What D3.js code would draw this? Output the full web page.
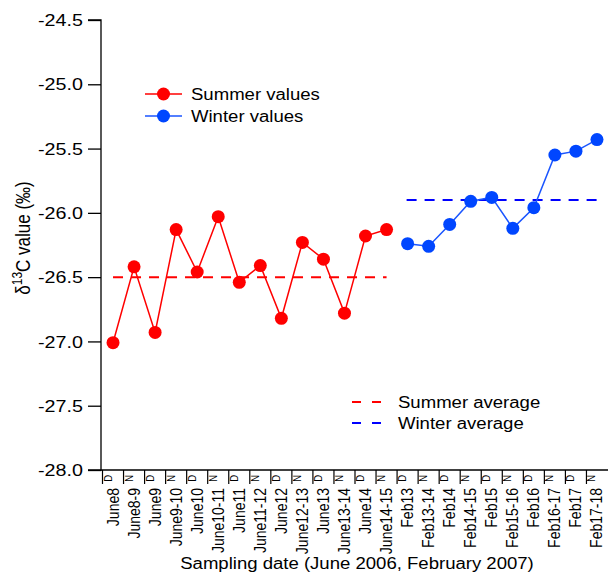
<!DOCTYPE html>
<html><head><meta charset="utf-8">
<script src="https://cdn.jsdelivr.net/npm/d3@7"></script>
<style>body{margin:0;background:#fff;} text{font-family:"Liberation Sans",Arial,sans-serif;fill:#000;}</style>
</head><body>
<svg id="c" width="608" height="577"></svg>
<script>
const summerCats = ["June8","June8-9","June9","June9-10","June10","June10-11","June11","June11-12","June12","June12-13","June13","June13-14","June14","June14-15"];
const winterCats = ["Feb13","Feb13-14","Feb14","Feb14-15","Feb15","Feb15-16","Feb16","Feb16-17","Feb17","Feb17-18"];
const summerValues = [-27.01,-26.42,-26.93,-26.13,-26.46,-26.03,-26.54,-26.41,-26.82,-26.23,-26.36,-26.78,-26.18,-26.13];
const winterValues = [-26.24,-26.26,-26.09,-25.91,-25.88,-26.12,-25.96,-25.55,-25.52,-25.43];
const summerAverage = -26.5;
const winterAverage = -25.9;
const yTicks = [-24.5,-25.0,-25.5,-26.0,-26.5,-27.0,-27.5,-28.0];

const K = 1.16; // horizontal stretch of text seen in the reference
const allCats = summerCats.concat(winterCats);
const svg = d3.select("#c");
const L = 101, R = 607, T = 20, B = 470;
const x = d3.scaleBand().domain(allCats).range([L+1.5, R+0.5]);
const y = d3.scaleLinear().domain([-28.0,-24.5]).range([B, T]);
const cx = c => x(c) + x.bandwidth()/2;

// Y axis
const ya = svg.append("g").attr("transform",`translate(${L},0)`)
  .call(d3.axisLeft(y).tickValues(yTicks).tickSize(13).tickFormat(""));
ya.select(".domain").attr("stroke","#000").attr("stroke-width",1.3).attr("d",`M-13,${T}H0V${B}H-13`);
ya.selectAll(".tick line").attr("stroke","#000").attr("stroke-width",1.3);
ya.selectAll(".tick text").remove();
svg.append("g").selectAll("text").data(yTicks).enter().append("text")
  .attr("transform", d => `translate(83,${y(d)}) scale(${K},1)`)
  .attr("text-anchor","end").attr("dy","0.36em").attr("font-size","17px")
  .text(d => d3.format(".1f")(d).replace("−","-"));

// X axis
const xa = svg.append("g").attr("transform",`translate(0,${B})`);
xa.append("line").attr("x1",L).attr("x2",R+1).attr("y1",0).attr("y2",0).attr("stroke","#000").attr("stroke-width",1.3);
allCats.forEach((c,i) => {
  const x0 = x(c);
  xa.append("line").attr("x1",x0).attr("x2",x0).attr("y1",0).attr("y2",14).attr("stroke","#000").attr("stroke-width",1.2);
  xa.append("text").attr("transform",`translate(${x0+9},${5}) scale(${K},1) rotate(-90)`).attr("text-anchor","end")
    .attr("font-size","9.5px").text(c.includes("-") ? "N" : "D");
  xa.append("text").attr("transform",`translate(${cx(c)+5.5},${18}) scale(${K},1) rotate(-90)`).attr("text-anchor","end")
    .attr("font-size","14px").text(c);
});

// Axis titles
svg.append("text").attr("transform",`translate(357,569) scale(${K},1)`).attr("text-anchor","middle").attr("font-size","16px")
  .text("Sampling date (June 2006, February 2007)");
const yt = svg.append("text").attr("transform",`translate(30,238) scale(${K},1) rotate(-90)`).attr("text-anchor","middle").attr("font-size","17px");
yt.append("tspan").text("δ");
yt.append("tspan").attr("dy",-7).attr("font-size","12px").text("13");
yt.append("tspan").attr("dy",7).text("C value (‰)");

// Averages
const sCol = "#ff0000", wCol = "#0046ff", wLine = "#1a55ff", wAvg = "#0000ff";
svg.append("line").attr("x1",cx(summerCats[0])).attr("x2",cx(summerCats[summerCats.length-1]))
  .attr("y1",y(summerAverage)).attr("y2",y(summerAverage)).attr("stroke",sCol).attr("stroke-width",2).attr("stroke-dasharray","10,8");
svg.append("line").attr("x1",cx(winterCats[0])-1).attr("x2",cx(winterCats[winterCats.length-1]))
  .attr("y1",y(winterAverage)).attr("y2",y(winterAverage)).attr("stroke",wAvg).attr("stroke-width",2).attr("stroke-dasharray","10,8");

// Series
const line = d3.line().x(d=>cx(d[0])).y(d=>y(d[1]));
const sData = summerCats.map((c,i)=>[c,summerValues[i]]);
const wData = winterCats.map((c,i)=>[c,winterValues[i]]);
svg.append("path").datum(sData).attr("d",line).attr("fill","none").attr("stroke",sCol).attr("stroke-width",1.5);
svg.append("path").datum(wData).attr("d",line).attr("fill","none").attr("stroke",wLine).attr("stroke-width",1.5);
svg.selectAll(".sp").data(sData).enter().append("circle").attr("cx",d=>cx(d[0])).attr("cy",d=>y(d[1])).attr("r",6.5).attr("fill",sCol);
svg.selectAll(".wp").data(wData).enter().append("circle").attr("cx",d=>cx(d[0])).attr("cy",d=>y(d[1])).attr("r",6.5).attr("fill",wCol);

// Legends
const lg = svg.append("g");
[[sCol,sCol,"Summer values",94],[wLine,wCol,"Winter values",116]].forEach(([lc,pc,t,yy])=>{
  lg.append("line").attr("x1",145).attr("x2",182).attr("y1",yy).attr("y2",yy).attr("stroke",lc).attr("stroke-width",1.5);
  lg.append("circle").attr("cx",163.5).attr("cy",yy).attr("r",6.5).attr("fill",pc);
  lg.append("text").attr("transform",`translate(191,${yy+5.5}) scale(${K},1)`).attr("font-size","16px").text(t);
});
[[sCol,"Summer average",402],[wAvg,"Winter average",423]].forEach(([c,t,yy])=>{
  lg.append("line").attr("x1",352).attr("x2",381).attr("y1",yy).attr("y2",yy).attr("stroke",c).attr("stroke-width",2).attr("stroke-dasharray","9,11");
  lg.append("text").attr("transform",`translate(398,${yy+5.5}) scale(${K},1)`).attr("font-size","16px").text(t);
});
</script>
</body></html>
